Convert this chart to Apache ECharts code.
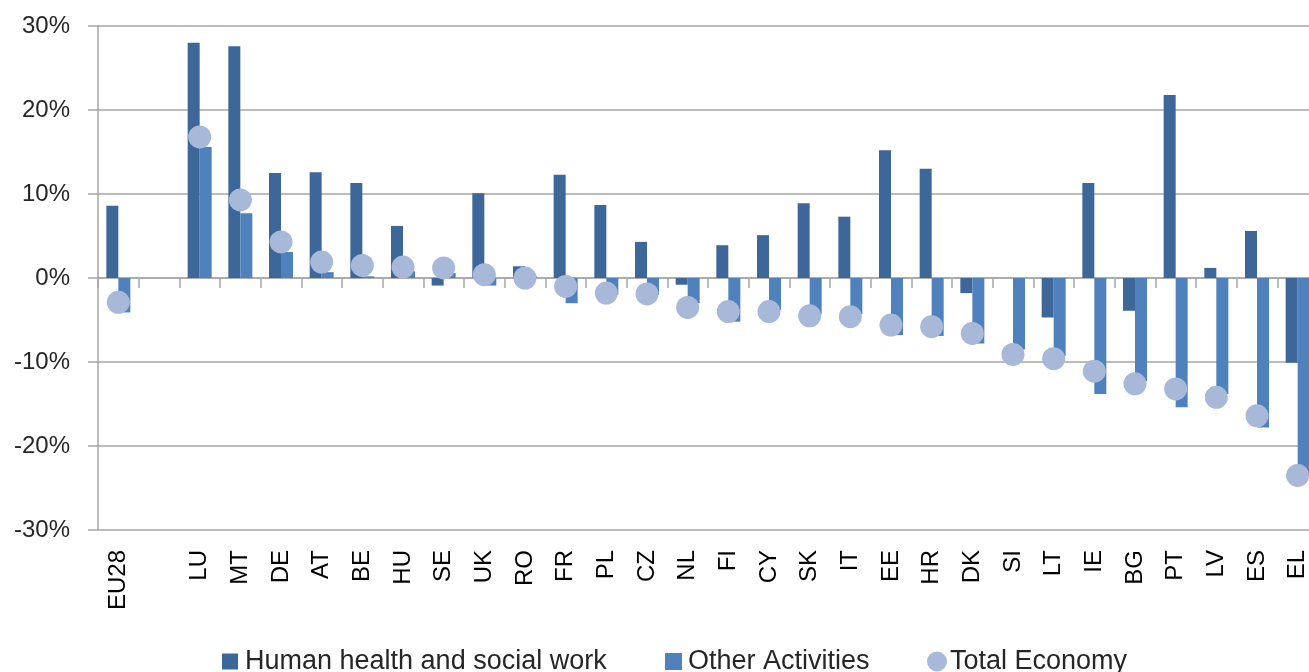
<!DOCTYPE html>
<html>
<head>
<meta charset="utf-8">
<script src="https://cdn.jsdelivr.net/npm/echarts@6/dist/echarts.min.js"></script>
<style>
html,body{margin:0;padding:0;background:#fff;overflow:hidden;}
#chart{width:1309px;height:672px;}
</style>
</head>
<body>
<div id="chart"></div>
<script>
var categories = ['EU28','','LU','MT','DE','AT','BE','HU','SE','UK','RO','FR','PL','CZ','NL','FI','CY','SK','IT','EE','HR','DK','SI','LT','IE','BG','PT','LV','ES','EL'];
var humanHealth = [8.6,null,28.0,27.6,12.5,12.6,11.3,6.2,-0.9,10.1,1.4,12.3,8.7,4.3,-0.8,3.9,5.1,8.9,7.3,15.2,13.0,-1.8,0,-4.7,11.3,-3.9,21.8,1.2,5.6,-10.1];
var otherActivities = [-4.1,null,15.6,7.7,3.1,0.7,0.2,0.8,0.6,-0.9,0.2,-3.0,-2.0,-2.0,-3.0,-5.2,-3.8,-4.3,-4.3,-6.8,-6.9,-7.8,-8.5,-9.3,-13.8,-12.3,-15.4,-13.8,-17.8,-23.8];
var totalEconomy = [-2.9,null,16.8,9.3,4.3,1.9,1.5,1.3,1.2,0.4,0.0,-1.0,-1.8,-1.9,-3.5,-4.0,-4.0,-4.5,-4.6,-5.6,-5.8,-6.6,-9.1,-9.6,-11.1,-12.6,-13.2,-14.2,-16.4,-23.5];
var seriesNames = ['Human health and social work','Other Activities','Total Economy'];

var FONT = "'Liberation Sans', Arial, sans-serif";
var GRID_COLOR = '#A6A6A6';
var chart = echarts.init(document.getElementById('chart'), null, {renderer:'canvas'});
chart.setOption({
  backgroundColor:'#ffffff',
  animation:false,
  grid:{left:98, width:1220, top:26, bottom:142, containLabel:false, outerBoundsMode:'none'},
  legend:[
    {data:[seriesNames[0]], left:222, top:648, padding:0, itemWidth:16, itemHeight:16, icon:'rect',
     textStyle:{fontFamily:FONT, fontSize:27, color:'#262626', padding:[0,0,0,2]}},
    {data:[seriesNames[1]], left:665, top:648, padding:0, itemWidth:17, itemHeight:17, icon:'rect',
     textStyle:{fontFamily:FONT, fontSize:27, color:'#262626', padding:[0,0,0,1]}},
    {data:[seriesNames[2]], left:927, top:648, padding:0, itemWidth:20, itemHeight:20, icon:'circle',
     textStyle:{fontFamily:FONT, fontSize:27, color:'#262626', padding:[0,0,0,-2]}}
  ],
  xAxis:[
    {type:'category', data:categories, position:'top',
     axisLine:{onZero:true, lineStyle:{color:GRID_COLOR, width:1.5}},
     axisTick:{show:true, inside:true, length:10, alignWithLabel:false, lineStyle:{color:GRID_COLOR, width:1.5}},
     axisLabel:{show:false}, splitLine:{show:false}},
    {type:'category', data:categories, position:'bottom',
     axisLine:{show:false, onZero:false}, axisTick:{show:false},
     axisLabel:{show:true, interval:0, rotate:90, margin:20, fontFamily:FONT, fontSize:24, color:'#000'},
     splitLine:{show:false}}
  ],
  yAxis:{type:'value', min:-30, max:30, interval:10,
    axisLine:{show:true, lineStyle:{color:GRID_COLOR, width:1.5}},
    axisTick:{show:true, length:10, lineStyle:{color:GRID_COLOR, width:1.5}},
    axisLabel:{formatter:'{value}%', margin:28, fontFamily:FONT, fontSize:24, color:'#262626'},
    splitLine:{show:true, lineStyle:{color:GRID_COLOR, width:1.5}}
  },
  series:[
    {name:seriesNames[0], type:'bar', xAxisIndex:0, data:humanHealth, barWidth:12, barGap:'0%',
     itemStyle:{color:'#3D6799'}},
    {name:seriesNames[1], type:'bar', xAxisIndex:0, data:otherActivities, barWidth:12, barGap:'0%',
     itemStyle:{color:'#4F81BD'}},
    {name:seriesNames[2], type:'scatter', xAxisIndex:0, data:totalEconomy, symbol:'circle', symbolSize:23,
     itemStyle:{color:'#A7B8D8', opacity:1}, z:5}
  ]
});
</script>
</body>
</html>
